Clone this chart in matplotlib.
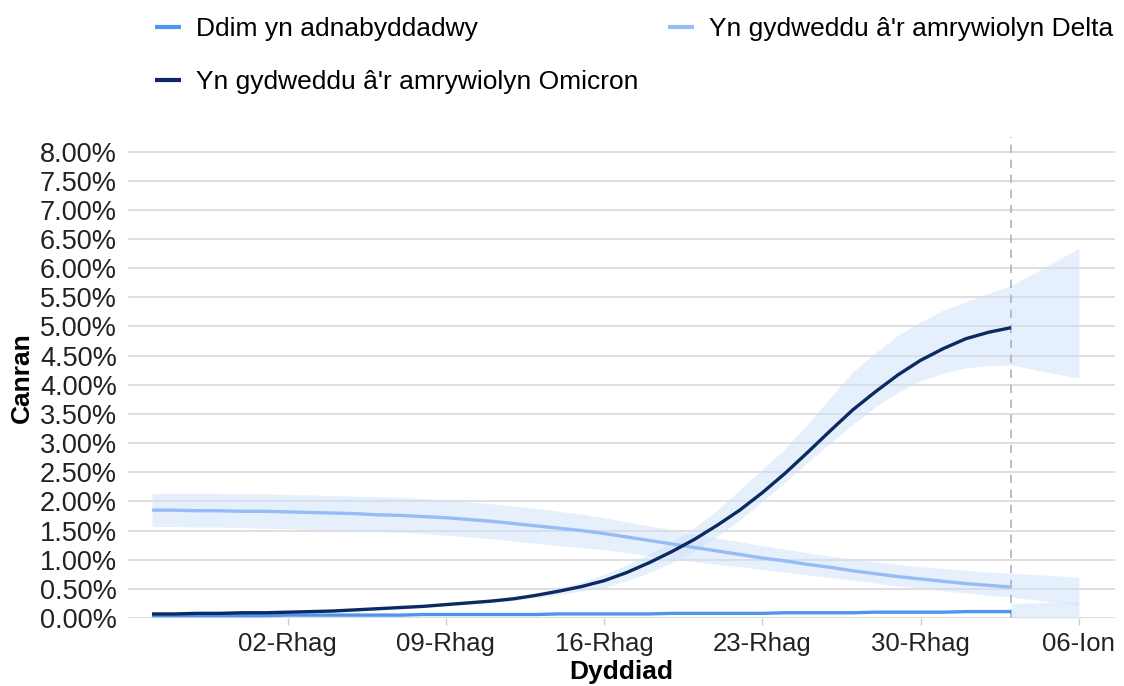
import numpy as np
import pandas as pd
import matplotlib
matplotlib.use("Agg")
import matplotlib.pyplot as plt
import matplotlib.dates as mdates

plt.rcParams['font.family'] = ['Liberation Sans', 'DejaVu Sans']

# one value per day, 26-Nov-2021 to 03-Jan-2022 (39 days)
dates = pd.date_range('2021-11-26', '2022-01-03', freq='D')

# percentages
unknown = [0.04, 0.04, 0.04, 0.04, 0.04, 0.04, 0.05, 0.05, 0.05, 0.05,
           0.05, 0.05, 0.06, 0.06, 0.06, 0.06, 0.06, 0.06, 0.07, 0.07,
           0.07, 0.07, 0.07, 0.08, 0.08, 0.08, 0.08, 0.08, 0.09, 0.09,
           0.09, 0.09, 0.10, 0.10, 0.10, 0.10, 0.11, 0.11, 0.11]

delta = [1.85, 1.85, 1.84, 1.84, 1.83, 1.83, 1.82, 1.81, 1.80, 1.79,
         1.77, 1.76, 1.74, 1.72, 1.69, 1.66, 1.62, 1.58, 1.54, 1.50,
         1.45, 1.39, 1.33, 1.27, 1.21, 1.15, 1.09, 1.03, 0.98, 0.92,
         0.87, 0.81, 0.76, 0.71, 0.67, 0.63, 0.59, 0.56, 0.53]
delta_hi = [2.14, 2.14, 2.14, 2.14, 2.13, 2.13, 2.12, 2.11, 2.10, 2.09,
            2.08, 2.07, 2.05, 2.02, 1.99, 1.96, 1.92, 1.88, 1.83, 1.78,
            1.72, 1.65, 1.58, 1.51, 1.44, 1.37, 1.31, 1.24, 1.18, 1.12,
            1.06, 1.01, 0.96, 0.92, 0.88, 0.85, 0.82, 0.79, 0.77]
delta_lo = [1.57, 1.57, 1.56, 1.56, 1.55, 1.54, 1.53, 1.52, 1.51, 1.50,
            1.48, 1.47, 1.45, 1.42, 1.39, 1.36, 1.32, 1.28, 1.24, 1.21,
            1.17, 1.12, 1.07, 1.02, 0.97, 0.92, 0.88, 0.83, 0.79, 0.74,
            0.70, 0.65, 0.60, 0.55, 0.51, 0.47, 0.43, 0.39, 0.36]

omicron = [0.07, 0.07, 0.08, 0.08, 0.09, 0.09, 0.10, 0.11, 0.12, 0.14,
           0.16, 0.18, 0.20, 0.23, 0.26, 0.29, 0.33, 0.39, 0.46, 0.54,
           0.64, 0.78, 0.95, 1.14, 1.35, 1.59, 1.85, 2.15, 2.48, 2.84,
           3.21, 3.57, 3.88, 4.17, 4.42, 4.62, 4.79, 4.90, 4.98]
omicron_hi = [0.09, 0.09, 0.10, 0.10, 0.11, 0.11, 0.12, 0.13, 0.14, 0.16,
              0.18, 0.20, 0.23, 0.26, 0.29, 0.32, 0.36, 0.43, 0.52, 0.62,
              0.75, 0.91, 1.10, 1.31, 1.55, 1.85, 2.20, 2.55, 2.90, 3.33,
              3.78, 4.22, 4.55, 4.85, 5.08, 5.28, 5.42, 5.57, 5.70]
omicron_lo = [0.05, 0.05, 0.06, 0.06, 0.07, 0.07, 0.08, 0.09, 0.10, 0.12,
              0.14, 0.16, 0.18, 0.21, 0.23, 0.26, 0.30, 0.35, 0.40, 0.46,
              0.52, 0.64, 0.78, 0.95, 1.15, 1.40, 1.68, 2.00, 2.33, 2.67,
              3.00, 3.32, 3.62, 3.87, 4.07, 4.20, 4.29, 4.33, 4.34]

# projection bands beyond the last date
proj_dates = pd.to_datetime(['2022-01-03', '2022-01-06'])
unknown_proj_lo = [0.0, 0.0]
unknown_proj_hi = [0.25, 0.28]
delta_proj_lo = [0.36, 0.22]
delta_proj_hi = [0.77, 0.70]
omicron_proj_lo = [4.34, 4.11]
omicron_proj_hi = [5.70, 6.34]

last_date = pd.Timestamp('2022-01-03')

tick_dates = pd.to_datetime(['2021-12-02', '2021-12-09', '2021-12-16',
                             '2021-12-23', '2021-12-30', '2022-01-06'])
tick_labels = ['02-Rhag', '09-Rhag', '16-Rhag', '23-Rhag', '30-Rhag', '06-Ion']
y_ticks = np.arange(0, 8.01, 0.5)

c_unknown = '#4f94ee'
c_delta = '#93bdf4'
c_omicron = '#0b2a62'
band = '#cfe0fa'

fig = plt.figure(figsize=(11.24, 6.86), dpi=100)
ax = fig.add_axes([0.1139, 0.0991, 0.8781, 0.7012])

for lo, hi in [(delta_lo, delta_hi), (omicron_lo, omicron_hi)]:
    ax.fill_between(dates, lo, hi, color=band, alpha=0.5, lw=0, zorder=1)
for lo, hi in [(unknown_proj_lo, unknown_proj_hi), (delta_proj_lo, delta_proj_hi),
               (omicron_proj_lo, omicron_proj_hi)]:
    ax.fill_between(proj_dates, lo, hi, color=band, alpha=0.5, lw=0, zorder=1)

l1, = ax.plot(dates, unknown, color=c_unknown, lw=2.4, zorder=3, solid_capstyle='butt')
l2, = ax.plot(dates, delta, color=c_delta, lw=2.4, zorder=3, solid_capstyle='butt')
l3, = ax.plot(dates, omicron, color=c_omicron, lw=2.4, zorder=4, solid_capstyle='butt')

ax.axvline(last_date, color='#a9b1cc', lw=1.2, ls=(0, (5, 4)), zorder=2)

base = mdates.date2num(pd.Timestamp('2021-11-26'))
ax.set_xlim(base - 1.06, base + 42.6)
ax.set_ylim(0, 8.25)

ax.set_yticks(y_ticks)
ax.set_yticklabels([f'{v:.2f}%' for v in y_ticks], fontsize=19.5, color='#222222')
ax.set_xticks(mdates.date2num(tick_dates))
ax.set_xticklabels(tick_labels, fontsize=18.5, color='#222222')
ax.tick_params(axis='y', length=0, pad=8)
ax.tick_params(axis='x', length=5, width=1, color='#cccccc', pad=5)

ax.grid(axis='y', color='#dcdcdc', lw=1.3, zorder=0)
ax.set_axisbelow(True)
for s in ax.spines.values():
    s.set_visible(False)

ax.set_xlabel('Dyddiad', fontsize=19, fontweight='bold', labelpad=3)
ax.set_ylabel('Canran', fontsize=19, fontweight='bold', labelpad=4)

fig.legend([l1, l3, l2],
           ['Ddim yn adnabyddadwy', "Yn gydweddu â'r amrywiolyn Omicron",
            "Yn gydweddu â'r amrywiolyn Delta"],
           ncol=2, loc='upper left', bbox_to_anchor=(155 / 1124, 1 - 17 / 686),
           frameon=False, fontsize=19, handlelength=1.0, handletextpad=0.55,
           columnspacing=1.12, labelspacing=1.1, borderpad=0, borderaxespad=0)
for h in fig.legends[0].legend_handles:
    h.set_linewidth(3)

fig.savefig('out.png', dpi=100)
